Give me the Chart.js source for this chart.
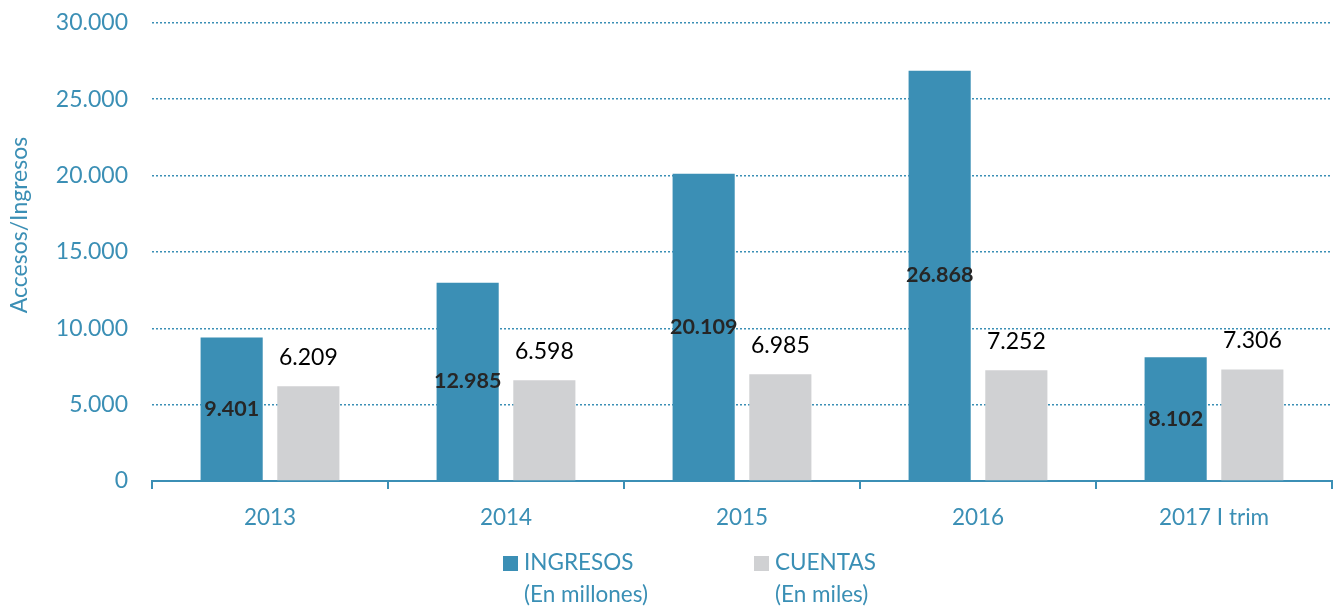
<!DOCTYPE html>
<html>
<head>
<meta charset="utf-8">
<script src="https://cdn.jsdelivr.net/npm/chart.js@4"></script>
<style>
    html, body { margin: 0; padding: 0; background: #fff; }
    #wrap { position: relative; width: 1344px; height: 609px; overflow: hidden; }
    #chart { position: absolute; left: 0; top: -15px; }
    #legend { position: absolute; top: 546px; left: 0; width: 1344px; font-family: Lato, "Open Sans", sans-serif; font-size: 22.5px; color: #3a8fb5; line-height: 32px; }
    .item { position: absolute; top: 0; }
    .box { position: absolute; left: 0; top: 10px; width: 15px; height: 15px; }
    .txt { position: absolute; left: 21px; top: 0; white-space: nowrap; }
</style>
</head>
<body>
<div id="wrap">
    <canvas id="chart" width="1344" height="624"></canvas>
    <div id="legend"></div>
</div>
<script>
/* datos */
const years = ["2013", "2014", "2015", "2016", "2017 I trim"];
const ingresos = [9401, 12985, 20109, 26868, 8102];
const cuentas = [6209, 6598, 6985, 7252, 7306];
const yTicks = [0, 5000, 10000, 15000, 20000, 25000, 30000];
const legendNames = [["INGRESOS", "(En millones)"], ["CUENTAS", "(En miles)"]];

const BLUE = "#3b8fb5";
const GREY = "#d0d1d3";
const FONT = "Lato, 'Open Sans', sans-serif";

/* formato 12.345 */
function fmt(v) {
    return String(Math.round(v)).replace(/\B(?=(\d{3})+(?!\d))/g, ".");
}

/* etiquetas de datos + titulo del eje */
const labelPlugin = {
    id: "labels",
    afterDatasetsDraw(chart) {
        const ctx = chart.ctx;
        ctx.save();
        ctx.textAlign = "center";
        chart.getDatasetMeta(0).data.forEach((bar, i) => {
            ctx.font = "bold 21.5px " + FONT;
            ctx.fillStyle = "#262626";
            ctx.textBaseline = "middle";
            ctx.fillText(fmt(ingresos[i]), bar.x, (bar.y + bar.base) / 2);
        });
        chart.getDatasetMeta(1).data.forEach((bar, i) => {
            ctx.font = "23px " + FONT;
            ctx.fillStyle = "#000";
            ctx.textBaseline = "middle";
            ctx.fillText(fmt(cuentas[i]), bar.x, bar.y - 29);
        });
        // titulo eje Y
        ctx.translate(20, 240);
        ctx.rotate(-Math.PI / 2);
        ctx.font = "23px " + FONT;
        ctx.fillStyle = BLUE;
        ctx.fillText("Accesos/Ingresos", 0, 0);
        ctx.restore();
    }
};

new Chart(document.getElementById("chart"), {
    type: "bar",
    data: {
        labels: years,
        datasets: [
            { label: "INGRESOS", data: ingresos, backgroundColor: BLUE },
            { label: "CUENTAS", data: cuentas, backgroundColor: GREY }
        ]
    },
    options: {
        responsive: false,
        animation: false,
        categoryPercentage: 0.65,
        barPercentage: 0.81,
        layout: { padding: { left: 8, right: 12, top: 0, bottom: 70 } },
        plugins: { legend: { display: false }, tooltip: { enabled: false } },
        scales: {
            x: {
                offset: true,
                grid: { display: true, drawOnChartArea: false, drawTicks: true, tickLength: 8, color: BLUE, lineWidth: 2, offset: true },
                border: { display: true, color: BLUE, width: 2 },
                ticks: { color: BLUE, font: { family: FONT, size: 22.5 }, padding: 15 },
                afterFit(s) { s.height = 624 - 496 - 70; }
            },
            y: {
                min: 0,
                max: 30000,
                afterBuildTicks(s) { s.ticks = yTicks.map(v => ({ value: v })); },
                grid: { color: BLUE, lineWidth: 1.5, drawTicks: false },
                border: { display: false, dash: [2, 2] },
                ticks: { color: BLUE, font: { family: FONT, size: 23 }, padding: 24, callback: v => fmt(v) },
                afterFit(s) { s.width = 152 - 8; }
            }
        }
    },
    plugins: [labelPlugin]
});

/* leyenda HTML */
const legend = document.getElementById("legend");
const legendX = [503, 754];
const legendColors = [BLUE, GREY];
legendNames.forEach((n, i) => {
    const d = document.createElement("div");
    d.className = "item";
    d.style.left = legendX[i] + "px";
    d.innerHTML = `<div class="box" style="background:${legendColors[i]}"></div><div class="txt">${n[0]}<br>${n[1]}</div>`;
    legend.appendChild(d);
});
</script>
</body>
</html>
